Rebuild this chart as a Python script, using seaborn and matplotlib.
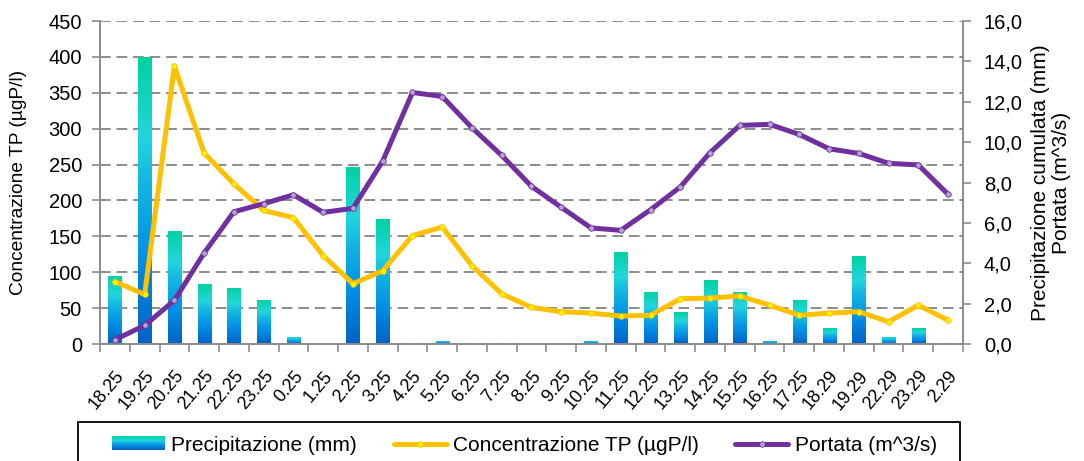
import numpy as np
import pandas as pd
import matplotlib
matplotlib.use("Agg")
import matplotlib.pyplot as plt
import seaborn as sns
from matplotlib.colors import LinearSegmentedColormap
from matplotlib.patches import Rectangle
from matplotlib.lines import Line2D
from matplotlib.legend_handler import HandlerBase
from matplotlib.ticker import FuncFormatter, FixedLocator
from matplotlib.transforms import ScaledTranslation

# ---- data -----------------------------------------------------------------
ore = ["18.25", "19.25", "20.25", "21.25", "22.25", "23.25", "0.25", "1.25",
       "2.25", "3.25", "4.25", "5.25", "6.25", "7.25", "8.25", "9.25",
       "10.25", "11.25", "12.25", "13.25", "14.25", "15.25", "16.25",
       "17.25", "18.29", "19.29", "22.29", "23.29", "2.29"]

precipitazione = [3.37, 14.2, 5.60, 2.97, 2.77, 2.18, 0.35, 0.0,
                  8.77, 6.19, 0.0, 0.15, 0.0, 0.0, 0.0, 0.0,
                  0.15, 4.56, 2.58, 1.58, 3.17, 2.58, 0.15,
                  2.18, 0.79, 4.36, 0.35, 0.79, 0.0]

concentrazione_tp = [87, 69, 387, 266, 223, 186, 176, 123,
                     84, 102, 151, 163, 109, 70, 51, 45,
                     43, 39, 40, 63, 64, 67, 54,
                     40, 43, 45, 31, 54, 33]

portata = [0.21, 0.92, 2.16, 4.51, 6.55, 6.95, 7.39, 6.52,
           6.72, 9.06, 12.46, 12.26, 10.71, 9.34, 7.81, 6.77,
           5.75, 5.63, 6.65, 7.78, 9.48, 10.83, 10.88,
           10.38, 9.67, 9.44, 8.95, 8.87, 7.41]

df = pd.DataFrame({"ora": ore, "prec": precipitazione,
                   "tp": concentrazione_tp, "q": portata})
df["pos"] = np.arange(len(df))

# ---- style ----------------------------------------------------------------
sns.set_style("white")
plt.rcParams["font.family"] = ["Liberation Sans", "DejaVu Sans"]
plt.rcParams["text.color"] = "black"
plt.rcParams["axes.labelcolor"] = "black"
plt.rcParams["xtick.labelcolor"] = "black"
plt.rcParams["ytick.labelcolor"] = "black"

GRAY = "#8c8c8c"
YELLOW = "#FFC000"
PURPLE = "#7030A0"
grad_cmap = LinearSegmentedColormap.from_list(
    "prec", [(0.0, "#0062C4"), (0.30, "#0090E6"), (0.55, "#12B4E2"),
             (0.72, "#22D6DC"), (1.0, "#00D2A0")])

W, H = 1084, 461
fig = plt.figure(figsize=(W / 100, H / 100), dpi=100)
ax_bar = fig.add_axes([100 / W, 1 - 344 / H, 863 / W, 323 / H])
ax_tp = ax_bar.twinx()
ax_q = ax_bar.twinx()

n = len(df)
RMAX = 16.0
LMAX = 450.0

# precipitation bars (right-hand scale, drawn underneath)
sns.barplot(data=df, x="pos", y="prec", ax=ax_bar, width=0.44,
            color="#0090E6", native_scale=True, zorder=2)
ax_bar.set_xlim(-0.5, n - 0.5)
ax_bar.set_ylim(0, RMAX)

grad = np.linspace(0, 1, 256).reshape(-1, 1)
for p in ax_bar.patches:
    x0, y0 = p.get_x(), p.get_y()
    w, h = p.get_width(), p.get_height()
    if h <= 0:
        continue
    im = ax_bar.imshow(grad, cmap=grad_cmap, origin="lower", aspect="auto",
                       extent=[x0, x0 + w, y0, y0 + h], zorder=2,
                       interpolation="bilinear")
    im.set_clip_path(p)
    p.set_facecolor("none")
    p.set_edgecolor("none")
ax_bar.set_xlim(-0.5, n - 0.5)
ax_bar.set_ylim(0, RMAX)
ax_bar.set_ylabel("")

# horizontal grid at the left-axis ticks
ax_bar.yaxis.set_major_locator(FixedLocator(np.linspace(0, RMAX, 10)))
ax_bar.grid(axis="y", color=GRAY, linestyle=(0, (5.5, 3.0)), linewidth=1.4,
            zorder=0)
ax_bar.grid(axis="x", visible=False)
ax_bar.set_axisbelow(True)
ax_bar.tick_params(axis="y", left=False, right=False, labelleft=False,
                   labelright=False)

# TP concentration (left scale)
sns.lineplot(data=df, x="pos", y="tp", ax=ax_tp, color=YELLOW, linewidth=3.6,
             marker="o", markersize=4.0, markerfacecolor="#FFF200",
             markeredgecolor=YELLOW, markeredgewidth=0.6, zorder=3)
ax_tp.set_ylim(0, LMAX)
ax_tp.yaxis.set_ticks_position("left")
ax_tp.yaxis.set_label_position("left")
ax_tp.set_yticks(np.arange(0, 451, 50))
ax_tp.set_ylabel("Concentrazione TP (µgP/l)", fontsize=13.8, color="black")
ax_tp.yaxis.set_label_coords((27 - 100) / 863, 0.5)
ax_tp.tick_params(axis="y", which="major", direction="out", length=6,
                  width=1.2, color=GRAY, labelsize=14.5, pad=7,
                  labelcolor="black")

# discharge (right scale)
sns.lineplot(data=df, x="pos", y="q", ax=ax_q, color=PURPLE, linewidth=3.6,
             marker="o", markersize=4.0, markerfacecolor="#B4A4CF",
             markeredgecolor=PURPLE, markeredgewidth=0.6, zorder=4)
ax_q.set_ylim(0, RMAX)
ax_q.set_yticks(np.arange(0, 16.1, 2))
ax_q.yaxis.set_major_formatter(FuncFormatter(lambda v, _: f"{v:.1f}".replace(".", ",")))
ax_q.set_ylabel("Precipitazione cumulata (mm)\nPortata (m^3/s)", fontsize=15,
                linespacing=1.15, color="black")
ax_q.yaxis.set_label_coords((1031 - 100) / 863, 0.5)
ax_q.tick_params(axis="y", which="major", direction="out", length=6,
                 width=1.2, color=GRAY, labelsize=14.5, pad=9,
                 labelcolor="black")

for a in (ax_bar, ax_tp, ax_q):
    a.set_xlim(-0.5, n - 0.5)
    a.set_xlabel("")
    for s in a.spines.values():
        s.set_visible(False)

ax_bar.spines["bottom"].set_visible(True)
ax_bar.spines["bottom"].set_color(GRAY)
ax_bar.spines["bottom"].set_linewidth(1.4)
ax_tp.spines["left"].set_visible(True)
ax_tp.spines["left"].set_color(GRAY)
ax_tp.spines["left"].set_linewidth(1.4)
ax_q.spines["right"].set_visible(True)
ax_q.spines["right"].set_color(GRAY)
ax_q.spines["right"].set_linewidth(1.4)

# category labels between boundary tick marks
ax_bar.set_xticks(np.arange(n))
ax_bar.set_xticklabels(df["ora"], rotation=50, ha="right",
                       rotation_mode="anchor", fontsize=13, color="black")
shift = ScaledTranslation(7 / 100, 0, fig.dpi_scale_trans)
for lbl in ax_bar.get_xticklabels():
    lbl.set_transform(lbl.get_transform() + shift)
ax_bar.set_xticks(np.arange(n + 1) - 0.5, minor=True)
ax_bar.tick_params(axis="x", which="major", length=0, pad=17, bottom=True)
ax_bar.tick_params(axis="x", which="minor", direction="out", length=6,
                   width=1.2, color=GRAY, bottom=True)
for a in (ax_tp, ax_q):
    a.tick_params(axis="x", which="both", bottom=False, labelbottom=False)


# legend with a gradient swatch for the bars
class GradientHandler(HandlerBase):
    def create_artists(self, legend, orig_handle, xdescent, ydescent,
                       width, height, fontsize, trans):
        arts = []
        steps = 24
        for k in range(steps):
            frac = k / (steps - 1)
            r = Rectangle((-xdescent, -ydescent + height * k / steps),
                          width, height / steps + 0.3,
                          facecolor=grad_cmap(frac), edgecolor="none",
                          transform=trans)
            arts.append(r)
        return arts


bar_handle = Rectangle((0, 0), 1, 1)
tp_handle = Line2D([], [], color=YELLOW, linewidth=3.6, marker="o",
                   markersize=4.0, markerfacecolor="#FFF200",
                   markeredgecolor=YELLOW, markeredgewidth=0.6)
q_handle = Line2D([], [], color=PURPLE, linewidth=3.6, marker="o",
                  markersize=4.0, markerfacecolor="#B4A4CF",
                  markeredgecolor=PURPLE, markeredgewidth=0.6)

leg = fig.legend([bar_handle, tp_handle, q_handle],
                 ["Precipitazione (mm)", "Concentrazione TP (µgP/l)",
                  "Portata (m^3/s)"],
                 handler_map={Rectangle: GradientHandler()},
                 loc="center left", ncol=3,
                 bbox_to_anchor=(112 / W, 1 - 445 / H),
                 fontsize=15, frameon=False,
                 handlelength=2.55, handleheight=0.6, handletextpad=0.3,
                 borderpad=0, columnspacing=1.75, borderaxespad=0)
for t in leg.get_texts():
    t.set_color("black")

# legend box, running past the lower edge of the figure
fig.add_artist(Rectangle((78 / W, -0.05), (960 - 78) / W, 0.05 + 1 - 422 / H,
                         transform=fig.transFigure, facecolor="none",
                         edgecolor="black", linewidth=1.3))

fig.savefig("out.png", dpi=100)
